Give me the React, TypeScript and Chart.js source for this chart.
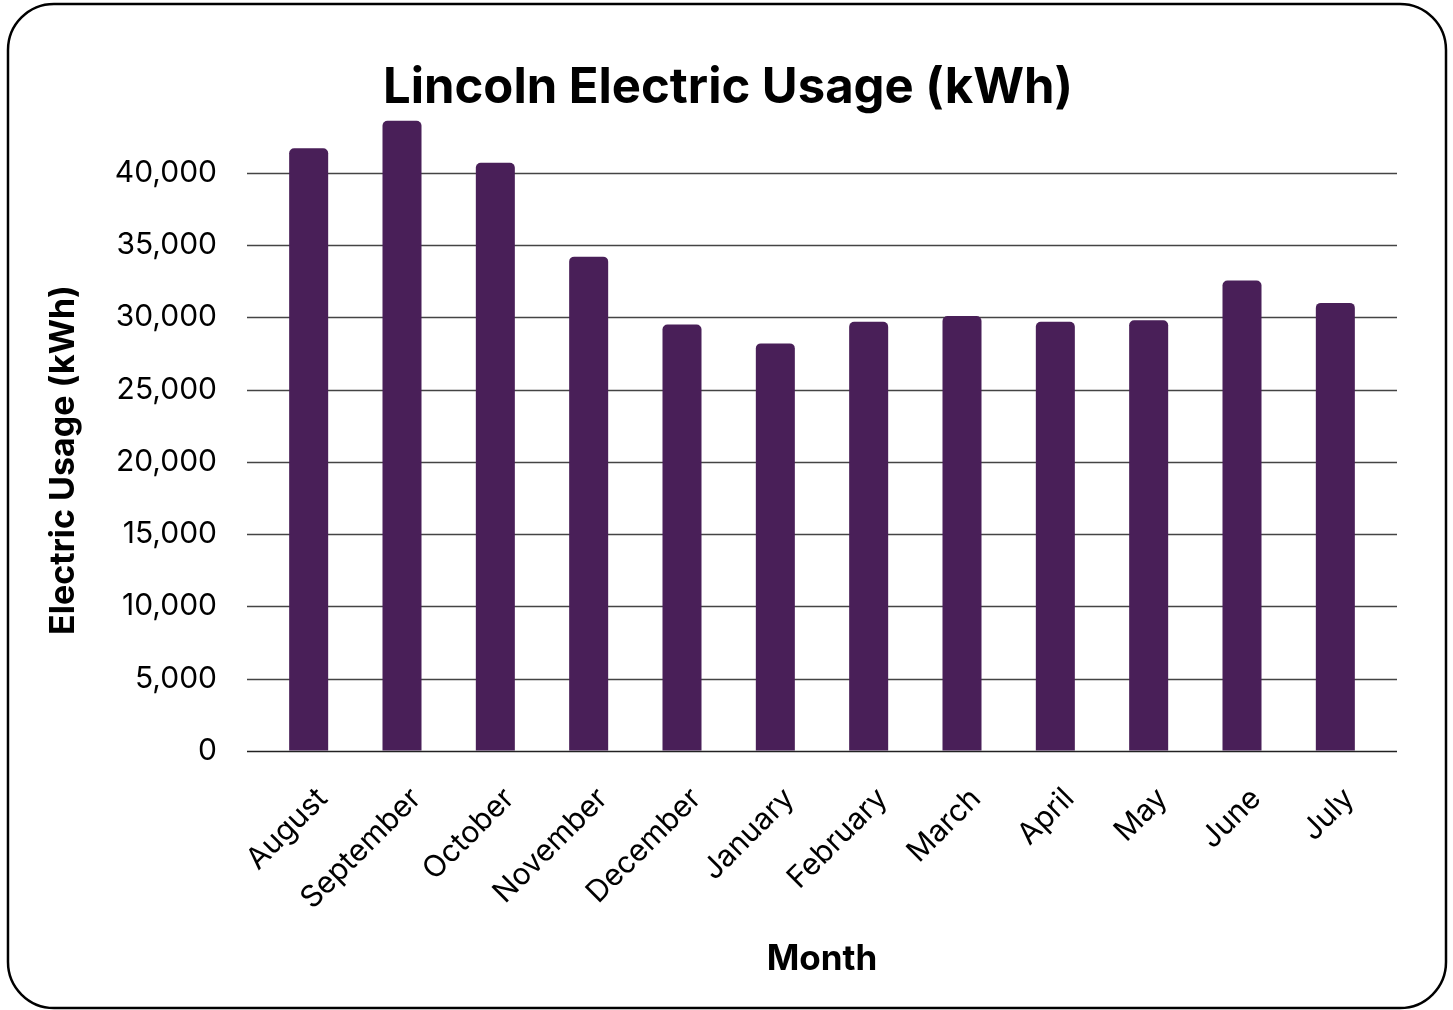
import { useEffect, useRef } from "react";
import { Chart, registerables } from "chart.js";

Chart.register(...registerables);

// Monthly electric usage, August through July
const months = [
  "August",
  "September",
  "October",
  "November",
  "December",
  "January",
  "February",
  "March",
  "April",
  "May",
  "June",
  "July",
];
const usageKwh = [41700, 43600, 40700, 34200, 29500, 28200, 29700, 30100, 29700, 29800, 32550, 31000];
const yTickValues = [0, 5000, 10000, 15000, 20000, 25000, 30000, 35000, 40000];

const chartTitle = "Lincoln Electric Usage (kWh)";
const yAxisTitle = "Electric Usage (kWh)";
const xAxisTitle = "Month";

const FONT = "Inter, 'Noto Sans', sans-serif";
const BAR_COLOR = "#491f58";

const W = 1453;
const H = 1010;

// White card with a rounded black outline behind everything
const cardPlugin = {
  id: "card",
  beforeDraw(chart: any) {
    const ctx = chart.ctx;
    ctx.save();
    ctx.fillStyle = "#ffffff";
    ctx.fillRect(0, 0, chart.width, chart.height);
    ctx.beginPath();
    ctx.roundRect(8, 4, 1438, 1004, 46);
    ctx.lineWidth = 2.5;
    ctx.strokeStyle = "#000000";
    ctx.stroke();
    ctx.restore();
  },
};

// Horizontal grid lines that run a little past both sides of the plot area
const gridPlugin = {
  id: "wideGrid",
  beforeDatasetsDraw(chart: any) {
    const { ctx, chartArea } = chart;
    const y = chart.scales.y;
    ctx.save();
    y.ticks.forEach((t: any) => {
      const py = Math.round(y.getPixelForValue(t.value)) + 0.5;
      ctx.beginPath();
      ctx.moveTo(chartArea.left - 15, py);
      ctx.lineTo(chartArea.right + 15, py);
      ctx.lineWidth = t.value === 0 ? 1.6 : 1.3;
      ctx.strokeStyle = t.value === 0 ? "#222222" : "#444444";
      ctx.stroke();
    });
    ctx.restore();
  },
};

// Chart heading and the vertical axis caption
const textPlugin = {
  id: "texts",
  afterDraw(chart: any) {
    const ctx = chart.ctx;
    ctx.save();
    ctx.fillStyle = "#000000";
    ctx.textAlign = "center";
    ctx.textBaseline = "middle";
    ctx.font = `700 49px ${FONT}`;
    ctx.fillText(chartTitle, 728, 88);

    ctx.translate(64, 460);
    ctx.rotate(-Math.PI / 2);
    ctx.font = `700 34px ${FONT}`;
    ctx.fillText(yAxisTitle, 0, 0);
    ctx.restore();
  },
};

export default function App() {
  const canvasRef = useRef<HTMLCanvasElement | null>(null);

  useEffect(() => {
    const canvas = canvasRef.current;
    if (!canvas) return;
    const chart = new Chart(canvas, {
      type: "bar",
      data: {
        labels: months,
        datasets: [
          {
            label: "Electric Usage (kWh)",
            data: usageKwh,
            backgroundColor: BAR_COLOR,
            borderWidth: 0,
            borderRadius: { topLeft: 5, topRight: 5, bottomLeft: 0, bottomRight: 0 },
            borderSkipped: "start",
            categoryPercentage: 1,
            barPercentage: 0.418,
          },
        ],
      },
      options: {
        responsive: false,
        animation: false,
        devicePixelRatio: 1,
        layout: { padding: { top: 115, left: 0, right: 71, bottom: 0 } },
        plugins: {
          legend: { display: false },
          title: { display: false },
          tooltip: { enabled: false },
        },
        scales: {
          x: {
            grid: { display: false },
            border: { display: false },
            ticks: {
              color: "#000000",
              font: { family: FONT, size: 30 },
              minRotation: 45,
              maxRotation: 45,
              autoSkip: false,
              padding: 22,
              labelOffset: 14,
            },
            title: {
              display: true,
              text: xAxisTitle,
              color: "#000000",
              font: { family: FONT, size: 35, weight: "bold" },
              padding: { top: 0, bottom: 30 },
            },
            afterFit: (s: any) => {
              s.height = 259;
            },
          },
          y: {
            min: 0,
            max: 44000,
            afterBuildTicks: (s: any) => {
              s.ticks = yTickValues.map((v) => ({ value: v }));
            },
            afterFit: (s: any) => {
              s.width = 262;
            },
            grid: {
              color: "rgba(0,0,0,0)",
              drawTicks: true,
              tickLength: 15,
            },
            border: { display: false },
            ticks: {
              color: "#000000",
              font: { family: FONT, size: 30 },
              padding: 30,
              callback: (v: any) => Number(v).toLocaleString("en-US"),
            },
          },
        },
      },
      plugins: [cardPlugin, gridPlugin, textPlugin],
    });
    return () => chart.destroy();
  }, []);

  return (
    <div style={{ position: "absolute", left: 0, top: 0, width: W, height: H }}>
      <canvas ref={canvasRef} width={W} height={H} style={{ display: "block" }} />
    </div>
  );
}
